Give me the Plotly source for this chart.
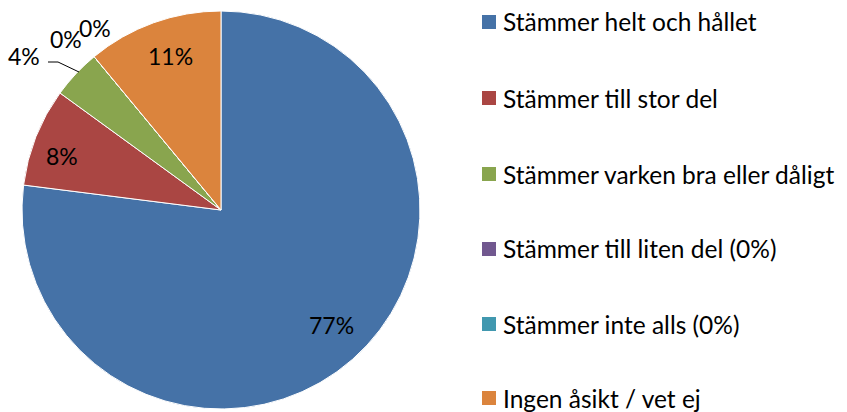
import plotly.graph_objects as go

labels = ["Stämmer helt och hållet", "Stämmer till stor del", "Stämmer varken bra eller dåligt",
          "Stämmer till liten del (0%)", "Stämmer inte alls (0%)", "Ingen åsikt / vet ej"]
values = [77, 8, 4, 0, 0, 11]
colors = ["#4572A7", "#AA4643", "#89A54E", "#71588F", "#4198AF", "#DB843D"]
pct_text = ["77%", "8%", "4%", "0%", "0%", "11%"]

W, H = 847, 412
FONT = "Lato"
FS_LBL = 23
FS_LEG = 24.5

fig = go.Figure()
fig.add_trace(go.Pie(
    labels=labels, values=values, sort=False, direction="clockwise", rotation=0,
    marker=dict(colors=colors, line=dict(color="white", width=1)),
    textinfo="none", showlegend=False, hoverinfo="label+percent",
    domain=dict(x=[(221 - 199) / W, (221 + 199) / W], y=[(202 - 199) / H, (202 + 199) / H]),
))

def px(x, y):
    return x / W, 1 - y / H

# data labels (text centres in pixels)
label_pos = [(331, 325), (62, 156), (24, 56), (66, 39), (95, 28), (170, 56)]
annotations = []
for t, (x, y) in zip(pct_text, label_pos):
    ax_, ay_ = px(x, y)
    annotations.append(dict(x=ax_, y=ay_, xref="paper", yref="paper", text=t, showarrow=False,
                            font=dict(family=FONT, size=FS_LBL, color="black"),
                            xanchor="center", yanchor="middle", borderpad=0))

# leader line for 4%
shapes = [dict(type="path", xref="paper", yref="paper",
               path="M {} {} L {} {} L {} {}".format(*px(48, 62), *px(58, 62), *px(79, 72)),
               line=dict(color="black", width=1))]

# legend
row_y = [22, 98, 174, 249, 324, 398]
for lab, col, y in zip(labels, colors, row_y):
    x0, y0 = px(482, y - 7)
    x1, y1 = px(496, y + 7)
    shapes.append(dict(type="rect", xref="paper", yref="paper", x0=x0, x1=x1, y0=y1, y1=y0,
                       fillcolor=col, line=dict(width=0)))
    tx, ty = px(502, y)
    annotations.append(dict(x=tx, y=ty, xref="paper", yref="paper", text=lab, showarrow=False,
                            font=dict(family=FONT, size=FS_LEG, color="black"),
                            xanchor="left", yanchor="middle", borderpad=0))

fig.update_layout(width=W, height=H, margin=dict(l=0, r=0, t=0, b=0),
                  paper_bgcolor="white", plot_bgcolor="white",
                  annotations=annotations, shapes=shapes, showlegend=False)
fig.write_html("out.html", config={"displayModeBar": False},
               post_script="document.body.style.margin='0';")
